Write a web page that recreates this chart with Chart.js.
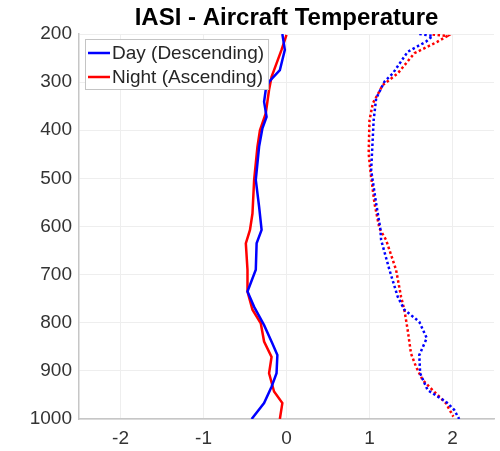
<!DOCTYPE html>
<html><head><meta charset="utf-8">
<script src="https://cdn.jsdelivr.net/npm/chart.js@4"></script>
<style>html,body{margin:0;padding:0;background:#fff;}#wrap{width:500px;height:451px;}</style>
</head><body><div id="wrap"><canvas id="c" width="500" height="451"></canvas></div>
<script>
const xTicks = [-2, -1, 0, 1, 2];
const yTicks = [200, 300, 400, 500, 600, 700, 800, 900, 1000];

const dayMeanP = [200,233,254,275,299,316,341,372,396,434,503,559,607,635,690,735,767,805,843,867,905,933,967,1000];
const dayMeanT = [-0.05,-0.02,-0.05,-0.08,-0.21,-0.25,-0.27,-0.24,-0.29,-0.33,-0.37,-0.33,-0.30,-0.36,-0.37,-0.47,-0.39,-0.27,-0.17,-0.11,-0.12,-0.18,-0.27,-0.42];

const nightMeanP = [202,233,261,289,316,365,400,434,503,573,607,635,690,735,773,801,839,871,905,943,967,1000];
const nightMeanT = [0.00,-0.06,-0.12,-0.18,-0.21,-0.25,-0.32,-0.35,-0.39,-0.41,-0.44,-0.49,-0.47,-0.47,-0.41,-0.31,-0.27,-0.18,-0.21,-0.15,-0.05,-0.08];

const daySdP = [200,204,216,237,282,299,334,379,448,483,552,604,628,690,746,773,798,832,867,905,940,964,981,1000];
const daySdT = [1.60,1.76,1.68,1.46,1.28,1.18,1.08,1.05,1.03,1.02,1.08,1.13,1.14,1.24,1.34,1.42,1.60,1.69,1.60,1.61,1.70,1.92,2.02,2.08];

const nightSdP = [201,204,216,240,282,306,344,379,448,483,552,604,628,690,746,773,815,864,891,919,940,967,995];
const nightSdT = [1.76,1.94,1.82,1.54,1.34,1.16,1.04,1.00,0.99,1.01,1.06,1.12,1.20,1.32,1.38,1.42,1.46,1.50,1.56,1.64,1.76,1.92,2.01];

const toPts = (p, t) => p.map((v, i) => ({ x: t[i], y: v }));
const FONT = 'Helvetica, Arial, "Liberation Sans", sans-serif';

const legendPlugin = {
  id: 'boxLegend',
  afterDatasetsDraw(chart) {
    const ctx = chart.ctx, a = chart.chartArea;
    const items = chart.data.datasets.filter(d => d.showInLegend);
    ctx.save();
    ctx.font = '19px ' + FONT;
    const w = Math.max(...items.map(d => ctx.measureText(d.label).width));
    const x0 = a.left + 6, y0 = a.top + 5, rowH = 24, lineLen = 22, gap = 2, padL = 3, padR = 4;
    const W = padL + lineLen + gap + w + padR, H = rowH * items.length + 2;
    ctx.fillStyle = '#fff';
    ctx.fillRect(x0, y0, W, H);
    ctx.strokeStyle = '#c4c4c4';
    ctx.lineWidth = 1;
    ctx.strokeRect(x0 + 0.5, y0 + 0.5, W, H);
    items.forEach((d, i) => {
      const cy = y0 + 14 + i * rowH;
      ctx.strokeStyle = d.borderColor;
      ctx.lineWidth = 2.5;
      ctx.beginPath();
      ctx.moveTo(x0 + padL, cy);
      ctx.lineTo(x0 + padL + lineLen, cy);
      ctx.stroke();
      ctx.fillStyle = '#262626';
      ctx.textBaseline = 'middle';
      ctx.fillText(d.label, x0 + padL + lineLen + gap, cy + 1);
    });
    ctx.restore();
  }
};

new Chart(document.getElementById('c'), {
  type: 'scatter',
  data: {
    datasets: [
      { label: 'Day (Descending)', data: toPts(dayMeanP, dayMeanT), borderColor: '#0000ff', showInLegend: true },
      { label: 'Night (Ascending)', data: toPts(nightMeanP, nightMeanT), borderColor: '#ff0000', showInLegend: true },
      { label: 'Day SD', data: toPts(daySdP, daySdT), borderColor: '#0000ff', borderDash: [2.5, 2.5] },
      { label: 'Night SD', data: toPts(nightSdP, nightSdT), borderColor: '#ff0000', borderDash: [2.5, 2.5] }
    ].map(d => Object.assign({ showLine: true, pointRadius: 0, borderWidth: 2.5, fill: false, tension: 0 }, d))
  },
  options: {
    responsive: false,
    animation: false,
    devicePixelRatio: 1,
    layout: { padding: { left: 0, right: 6, top: 0, bottom: 0 } },
    plugins: {
      legend: { display: false },
      tooltip: { enabled: false },
      title: {
        display: true,
        fullSize: false,
        text: 'IASI - Aircraft Temperature',
        color: '#000',
        font: { family: FONT, size: 24, weight: 'bold' },
        padding: { top: 4, bottom: 1.2 }
      }
    },
    scales: {
      x: {
        type: 'linear',
        min: -2.5, max: 2.5,
        afterBuildTicks: s => { s.ticks = xTicks.map(v => ({ value: v })); },
        afterFit: s => { s.height = 32; },
        ticks: { color: '#333', font: { family: FONT, size: 19 }, padding: 8, maxRotation: 0, callback: v => String(v) },
        grid: { color: '#eeeeee', drawTicks: false },
        border: { color: '#c6c6c6', width: 1.5 }
      },
      y: {
        type: 'linear',
        reverse: true,
        min: 200, max: 1000,
        afterBuildTicks: s => { s.ticks = yTicks.map(v => ({ value: v })); },
        afterFit: s => { s.width = 79; },
        ticks: { color: '#333', font: { family: FONT, size: 19 }, padding: 7, callback: v => String(v) },
        grid: { color: '#eeeeee', drawTicks: false },
        border: { color: '#c6c6c6', width: 1.5 }
      }
    }
  },
  plugins: [legendPlugin]
});
</script>
</body></html>
